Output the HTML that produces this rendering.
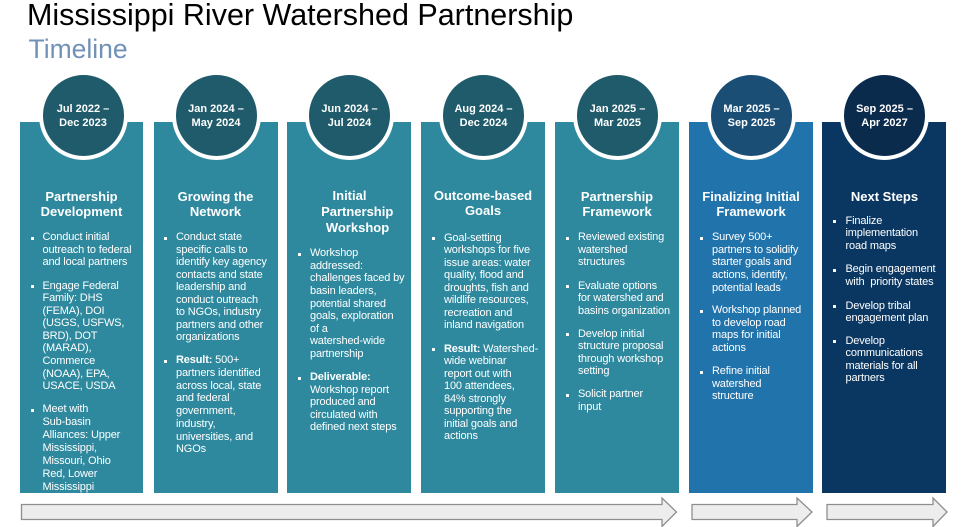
<!DOCTYPE html>
<html><head><meta charset="utf-8">
<style>
*{margin:0;padding:0;box-sizing:border-box}
html,body{width:964px;height:527px;background:#fff;overflow:hidden}
body{position:relative;font-family:"Liberation Sans",sans-serif}
.t{position:absolute;white-space:nowrap}
.box{position:absolute;top:122px;width:124px;height:371px;background:#2E899E}
.circ{position:absolute;top:70.5px;width:89px;height:89px;border-radius:50%;border:4px solid #fff;background:#1F5B6A;color:#fff;font-weight:bold;font-size:11px;line-height:14px;text-align:center;padding-top:27.9px}
.h{position:absolute;color:#fff;font-weight:bold;font-size:13px;line-height:15.6px;white-space:nowrap;text-align:center;width:160px;margin-top:1px}
.p{position:absolute;color:#fff;font-size:11px;line-height:12.6px;letter-spacing:-0.15px;white-space:nowrap;margin-top:1.5px}
.b{position:absolute;width:3px;height:3px;background:#fff;border-radius:0.5px;margin-top:1.5px}
</style></head><body>

<div class="t" style="left:27px;top:0;font-size:30.5px;line-height:30.5px;color:#000">Mississippi River Watershed Partnership</div>
<div class="t" style="left:28.5px;top:35.9px;font-size:26.5px;line-height:26.5px;color:#7291B7">Timeline</div>

<!-- boxes -->
<div class="box" style="left:20px;width:123px"></div>
<div class="box" style="left:153.5px"></div>
<div class="box" style="left:287px"></div>
<div class="box" style="left:421px"></div>
<div class="box" style="left:555px"></div>
<div class="box" style="left:689px;background:#2173AB"></div>
<div class="box" style="left:822px;background:#0A3762"></div>

<!-- circles -->
<div class="circ" style="left:38.5px">Jul 2022 –<br>Dec 2023</div>
<div class="circ" style="left:171.5px">Jan 2024 –<br>May 2024</div>
<div class="circ" style="left:305px">Jun 2024 –<br>Jul 2024</div>
<div class="circ" style="left:439px">Aug 2024 –<br>Dec 2024</div>
<div class="circ" style="left:573px">Jan 2025 –<br>Mar 2025</div>
<div class="circ" style="left:707px;background:#1B4E75">Mar 2025 –<br>Sep 2025</div>
<div class="circ" style="left:840px;background:#0B2B4D">Sep 2025 –<br>Apr 2027</div>

<!-- Col1 -->
<div class="h" style="left:1.5px;top:187.8px">Partnership<br>Development</div>
<div class="b" style="left:30.5px;top:235.5px"></div>
<div class="p" style="left:42.5px;top:229.7px">Conduct initial<br>outreach to federal<br>and local partners</div>
<div class="b" style="left:30.5px;top:283.8px"></div>
<div class="p" style="left:42.5px;top:278px">Engage Federal<br>Family: DHS<br>(FEMA), DOI<br>(USGS, USFWS,<br>BRD), DOT<br>(MARAD),<br>Commerce<br>(NOAA), EPA,<br>USACE, USDA</div>
<div class="b" style="left:30.5px;top:407.5px"></div>
<div class="p" style="left:42.5px;top:401.7px;line-height:12.9px">Meet with<br>Sub-basin<br>Alliances: Upper<br>Mississippi,<br>Missouri, Ohio<br>Red, Lower<br>Mississippi</div>

<!-- Col2 -->
<div class="h" style="left:135.5px;top:187.8px">Growing the<br>Network</div>
<div class="b" style="left:163.5px;top:235.5px"></div>
<div class="p" style="left:176px;top:229.7px;line-height:12.5px">Conduct state<br>specific calls to<br>identify key agency<br>contacts and state<br>leadership and<br>conduct outreach<br>to NGOs, industry<br>partners and other<br>organizations</div>
<div class="b" style="left:163.5px;top:358.5px"></div>
<div class="p" style="left:176px;top:352.7px;line-height:12.75px"><b>Result:</b> 500+<br>partners identified<br>across local, state<br>and federal<br>government,<br>industry,<br>universities, and<br>NGOs</div>

<!-- Col3 -->
<div class="h" style="left:269.5px;top:186.8px">Initial</div>
<div class="h" style="left:277.2px;top:203.4px">Partnership</div>
<div class="h" style="left:277.5px;top:219.4px">Workshop</div>
<div class="b" style="left:297.5px;top:251.5px"></div>
<div class="p" style="left:310px;top:245.7px;line-height:12.6px">Workshop<br>addressed:<br>challenges faced by<br>basin leaders,<br>potential shared<br>goals, exploration<br>of a<br>watershed-wide<br>partnership</div>
<div class="b" style="left:297.5px;top:375.5px"></div>
<div class="p" style="left:310px;top:369.7px;line-height:12.5px"><b>Deliverable:</b><br>Workshop report<br>produced and<br>circulated with<br>defined next steps</div>

<!-- Col4 -->
<div class="h" style="left:403px;top:186.8px">Outcome-based<br>Goals</div>
<div class="b" style="left:431.5px;top:235.8px"></div>
<div class="p" style="left:444px;top:230px;line-height:12.5px">Goal-setting<br>workshops for five<br>issue areas: water<br>quality, flood and<br>droughts, fish and<br>wildlife resources,<br>recreation and<br>inland navigation</div>
<div class="b" style="left:431.5px;top:346.8px"></div>
<div class="p" style="left:444px;top:341px;line-height:12.5px"><b>Result:</b> Watershed-<br>wide webinar<br>report out with<br>100 attendees,<br>84% strongly<br>supporting the<br>initial goals and<br>actions</div>

<!-- Col5 -->
<div class="h" style="left:537px;top:187.8px">Partnership<br>Framework</div>
<div class="b" style="left:565.5px;top:235.5px"></div>
<div class="p" style="left:578px;top:229.7px">Reviewed existing<br>watershed<br>structures</div>
<div class="b" style="left:565.5px;top:283.8px"></div>
<div class="p" style="left:578px;top:278px">Evaluate options<br>for watershed and<br>basins organization</div>
<div class="b" style="left:565.5px;top:331.8px"></div>
<div class="p" style="left:578px;top:326px">Develop initial<br>structure proposal<br>through workshop<br>setting</div>
<div class="b" style="left:565.5px;top:392.5px"></div>
<div class="p" style="left:578px;top:386.7px;line-height:13px">Solicit partner<br>input</div>

<!-- Col6 -->
<div class="h" style="left:671px;top:187.8px">Finalizing Initial<br>Framework</div>
<div class="b" style="left:699.5px;top:235.5px"></div>
<div class="p" style="left:712px;top:229.7px">Survey 500+<br>partners to solidify<br>starter goals and<br>actions, identify,<br>potential leads</div>
<div class="b" style="left:699.5px;top:308.5px"></div>
<div class="p" style="left:712px;top:302.7px">Workshop planned<br>to develop road<br>maps for initial<br>actions</div>
<div class="b" style="left:699.5px;top:369.5px"></div>
<div class="p" style="left:712px;top:363.7px">Refine initial<br>watershed<br>structure</div>

<!-- Col7 -->
<div class="h" style="left:804.5px;top:187.8px">Next Steps</div>
<div class="b" style="left:832.5px;top:218.8px"></div>
<div class="p" style="left:845.5px;top:213px">Finalize<br>implementation<br>road maps</div>
<div class="b" style="left:832.5px;top:267.5px"></div>
<div class="p" style="left:845.5px;top:261.7px">Begin engagement<br>with&nbsp; priority states</div>
<div class="b" style="left:832.5px;top:303.8px"></div>
<div class="p" style="left:845.5px;top:298px">Develop tribal<br>engagement plan</div>
<div class="b" style="left:832.5px;top:338.8px"></div>
<div class="p" style="left:845.5px;top:333px">Develop<br>communications<br>materials for all<br>partners</div>

<!-- arrows -->
<svg style="position:absolute;left:0;top:0" width="964" height="527" viewBox="0 0 964 527">
<g fill="#EDEDED" stroke="#8E8E8E" stroke-width="1.3" stroke-linejoin="miter">
<polygon points="21.5,504.5 662,504.5 662,498 676.5,512 662,526.5 662,519.5 21.5,519.5"/>
<polygon points="692,504.5 797,504.5 797,498 812,512 797,526.5 797,519.5 692,519.5"/>
<polygon points="827,504.5 933,504.5 933,498 947,512 933,526.5 933,519.5 827,519.5"/>
</g>
</svg>
</body></html>
